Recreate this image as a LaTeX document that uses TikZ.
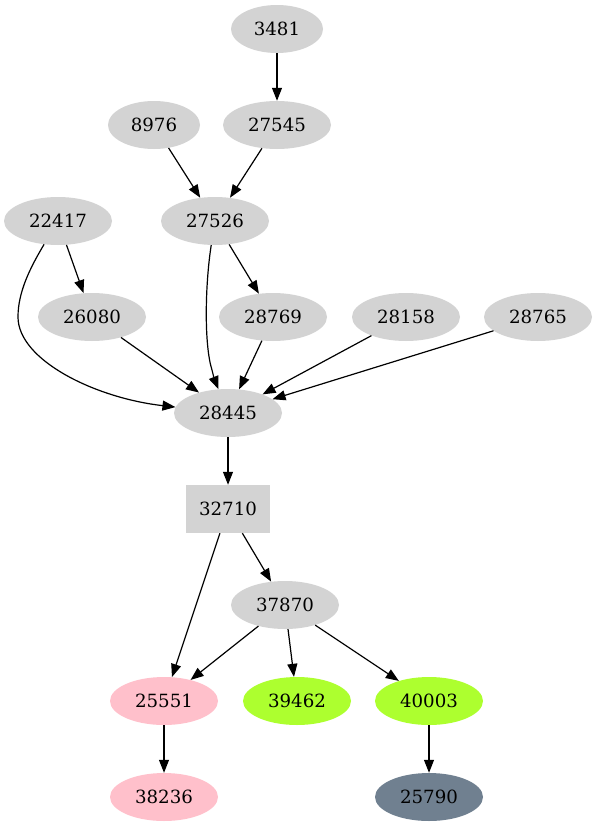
\documentclass[tikz,border=0pt]{standalone}
\usepackage{fontspec}
\setmainfont{DejaVu Serif}
\usetikzlibrary{shapes.geometric,arrows.meta}

\definecolor{nodegray}{RGB}{211,211,211}
\definecolor{nodepink}{RGB}{255,192,203}
\definecolor{nodegreen}{RGB}{173,255,47}
\definecolor{nodeslate}{RGB}{112,128,144}

\begin{document}
\begin{tikzpicture}[x=1pt, y=-1pt,
    vert/.style={ellipse, fill=nodegray, minimum width=108pt, minimum height=48pt,
                 inner sep=0pt, font=\fontsize{18.2}{20}\selectfont},
    short/.style={vert, minimum width=92pt},
    edge/.style={line width=1.2pt, -{Triangle[length=13pt,width=10pt]}}]
    \useasboundingbox (0,0) rectangle (597,827);

    % 上层节点
    \node[short] (n3481)  at (277,29)  {3481};
    \node[short] (n8976)  at (154,125) {8976};
    \node[vert]  (n27545) at (277,125) {27545};
    \node[vert]  (n22417) at (58,221)  {22417};
    \node[vert]  (n27526) at (215,221) {27526};
    \node[vert]  (n26080) at (92,317)  {26080};
    \node[vert]  (n28769) at (273,317) {28769};
    \node[vert]  (n28158) at (406,317) {28158};
    \node[vert]  (n28765) at (538,317) {28765};
    \node[vert]  (n28445) at (228,413) {28445};

    % 方框节点
    \node[rectangle, fill=nodegray, minimum width=84pt, minimum height=48pt,
          inner sep=0pt, font=\fontsize{18.2}{20}\selectfont] (n32710) at (228,509) {32710};

    % 下层节点 (带颜色)
    \node[vert] (n37870) at (285,605) {37870};
    \node[vert, fill=nodepink]  (n25551) at (164,701) {25551};
    \node[vert, fill=nodegreen] (n39462) at (297,701) {39462};
    \node[vert, fill=nodegreen] (n40003) at (429,701) {40003};
    \node[vert, fill=nodepink]  (n38236) at (164,797) {38236};
    \node[vert, fill=nodeslate] (n25790) at (429,797) {25790};

    % 直线边
    \draw[edge] (n3481) -- (n27545);
    \draw[edge] (n8976) -- (n27526);
    \draw[edge] (n27545) -- (n27526);
    \draw[edge] (n22417) -- (n26080);
    \draw[edge] (n27526) -- (n28769);
    \draw[edge] (n26080) -- (n28445);
    \draw[edge] (n28769) -- (n28445);
    \draw[edge] (n28158) -- (n28445);
    \draw[edge] (n28765) -- (n28445);
    \draw[edge] (n28445) -- (n32710);
    \draw[edge] (n32710) -- (n25551);
    \draw[edge] (n32710) -- (n37870);
    \draw[edge] (n37870) -- (n25551);
    \draw[edge] (n37870) -- (n39462);
    \draw[edge] (n37870) -- (n40003);
    \draw[edge] (n25551) -- (n38236);
    \draw[edge] (n40003) -- (n25790);

    % 曲线边
    \draw[edge] (n22417) .. controls (30,268) and (18,292) .. (18,317)
                .. controls (18,360) and (95,398) .. (n28445);
    \draw[edge] (n27526) .. controls (205,285) and (204,345) .. (212,370)
                .. controls (214,378) .. (n28445);
\end{tikzpicture}
\end{document}
